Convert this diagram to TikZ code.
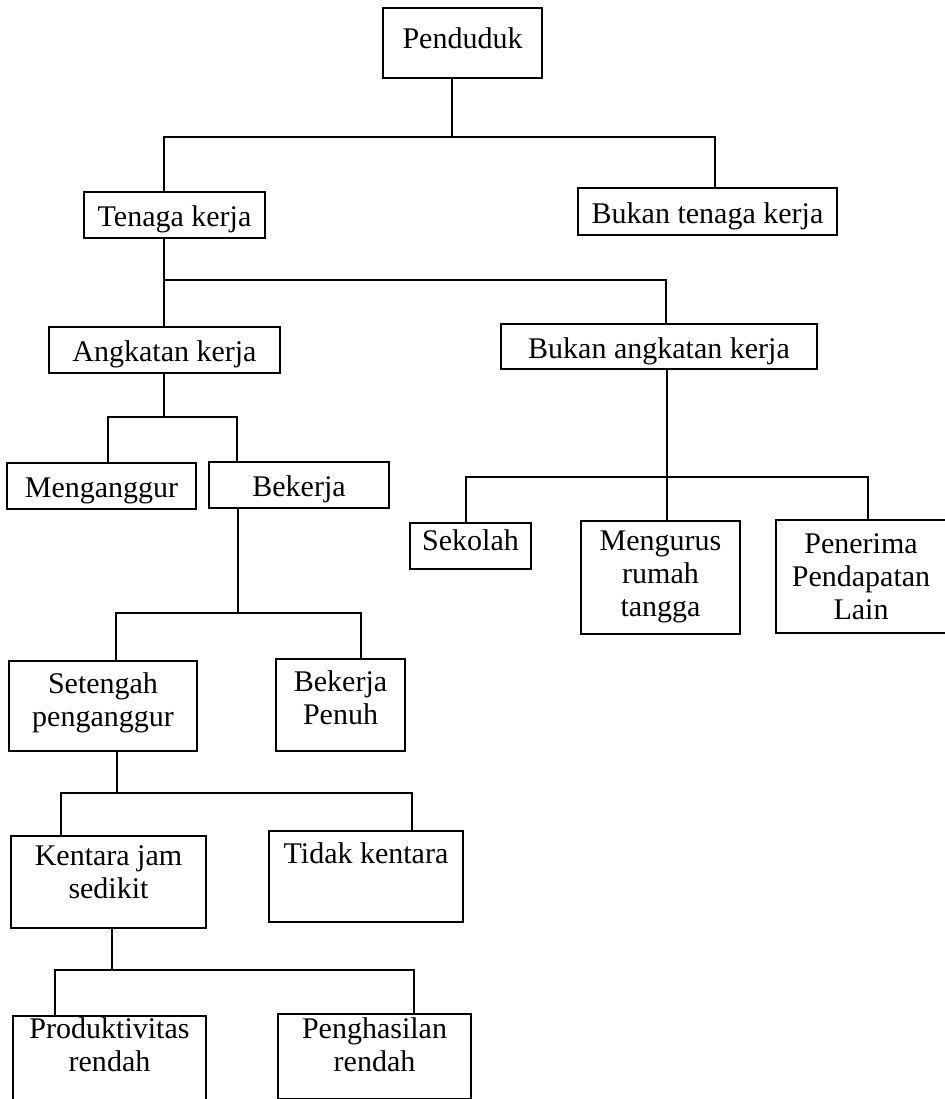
\documentclass[tikz,border=0pt]{standalone}
\usepackage{fontspec}
\setmainfont{Liberation Serif}
\begin{document}
\begin{tikzpicture}[x=1pt, y=-1pt,
	kotak/.style={draw, line width=1.6pt, anchor=north, align=center, inner sep=2pt,
		font=\fontsize{30}{33}\selectfont},
	sebaris/.style={text height=24, text depth=0},
	garis/.style={line width=1.3pt}]
	\useasboundingbox[fill=white] (0,0) rectangle (944,1099);

	\node[kotak, sebaris, text height=12, minimum width=159, minimum height=70] (pend) at (462.5,7) {Penduduk};
	\node[kotak, sebaris, minimum width=181, minimum height=46] (tk) at (174.5,191) {Tenaga kerja};
	\node[kotak, sebaris, minimum width=259, minimum height=47] (btk) at (707.5,187) {Bukan tenaga kerja};
	\node[kotak, sebaris, minimum width=231, minimum height=46] (ak) at (164.5,326) {Angkatan kerja};
	\node[kotak, sebaris, minimum width=316, minimum height=45] (bak) at (659,323) {Bukan angkatan kerja};
	\node[kotak, sebaris, minimum width=189, minimum height=46] (meng) at (101.5,462) {Menganggur};
	\node[kotak, sebaris, minimum width=180, minimum height=46] (bek) at (299,461) {Bekerja};
	\node[kotak, sebaris, text height=10, minimum width=121, minimum height=46] (sek) at (470.5,522) {Sekolah};
	\node[kotak, minimum width=159, minimum height=113] (mrt) at (660.5,520) {Mengurus\\rumah\\tangga};
	\node[kotak, minimum width=170, minimum height=113] (ppl) at (861,519) {Penerima\\Pendapatan\\Lain};
	\node[kotak, minimum width=188, minimum height=90, text depth=13] (sp) at (103,660) {Setengah\\penganggur};
	\node[kotak, minimum width=129, minimum height=92, text depth=15] (bp) at (340.5,658) {Bekerja\\Penuh};
	\node[kotak, minimum width=195, minimum height=92, text depth=19] (kjs) at (108.5,835) {Kentara jam\\sedikit};
	\node[kotak, minimum width=194, minimum height=91, text depth=47] (tkt) at (366,830) {Tidak kentara};
	\node[kotak, minimum width=193, minimum height=95, text depth=38] (pr) at (109.5,1015) {Produktivitas\\rendah};
	\node[kotak, minimum width=193, minimum height=85, text depth=24] (phr) at (374.5,1013) {Penghasilan\\rendah};

	\coordinate (s1) at (452,137);
	\coordinate (a1) at (164,137);
	\coordinate (a2) at (715,137);
	\coordinate (a3) at (164,280);
	\coordinate (a4) at (666,280);
	\coordinate (s3) at (164,417);
	\coordinate (a5) at (108,417);
	\coordinate (a6) at (237,417);
	\coordinate (s4) at (667,477);
	\coordinate (a7) at (466,477);
	\coordinate (a8) at (868,477);
	\coordinate (s5) at (238,613);
	\coordinate (a9) at (116,613);
	\coordinate (a10) at (361,613);
	\coordinate (s6) at (117,793);
	\coordinate (a11) at (61,793);
	\coordinate (a12) at (412,793);
	\coordinate (s7) at (112,970);
	\coordinate (a13) at (55,970);
	\coordinate (a14) at (414,970);

	\draw[garis] (pend.south -| s1) -- (s1);
	\draw[garis] (tk.north -| a1) -- (a1) -- (a2) -- (btk.north -| a2);
	\draw[garis] (tk.south -| a3) -- (ak.north -| a3);
	\draw[garis] (a3) -- (a4) -- (bak.north -| a4);
	\draw[garis] (ak.south -| s3) -- (s3);
	\draw[garis] (meng.north -| a5) -- (a5) -- (a6) -- (bek.north -| a6);
	\draw[garis] (bak.south -| s4) -- (mrt.north -| s4);
	\draw[garis] (sek.north -| a7) -- (a7) -- (a8) -- (ppl.north -| a8);
	\draw[garis] (bek.south -| s5) -- (s5);
	\draw[garis] (sp.north -| a9) -- (a9) -- (a10) -- (bp.north -| a10);
	\draw[garis] (sp.south -| s6) -- (s6);
	\draw[garis] (kjs.north -| a11) -- (a11) -- (a12) -- (tkt.north -| a12);
	\draw[garis] (kjs.south -| s7) -- (s7);
	\draw[garis] (pr.north -| a13) -- (a13) -- (a14) -- (phr.north -| a14);
\end{tikzpicture}
\end{document}
